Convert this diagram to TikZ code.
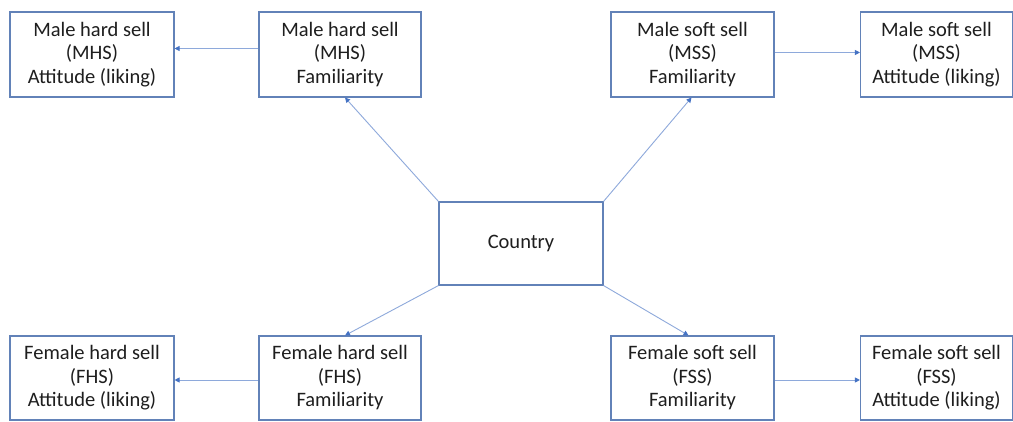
\documentclass[tikz,border=0pt]{standalone}
\usepackage{fontspec}
\setmainfont{Carlito}
\usetikzlibrary{arrows.meta}
\definecolor{boxline}{HTML}{6282B8}
\definecolor{conn}{HTML}{8EA9DB}
\definecolor{tipc}{HTML}{4472C4}
\definecolor{txt}{HTML}{1E1E1E}
\tikzset{
  box/.style={draw=boxline, line width=1.1pt, fill=white, minimum height=85pt, align=center,
    text=txt, font=\fontsize{20.5}{23.5}\selectfont, inner sep=0pt},
  conline/.style={draw=conn, line width=0.9pt, -{Triangle[length=5pt,width=5pt,color=tipc]}},
  plain/.style={draw=conn, line width=0.9pt}
}
\begin{document}
\begin{tikzpicture}[x=1pt,y=-1pt]
\useasboundingbox[fill=white] (0,0) rectangle (1013,422);
\node[box, minimum width=164pt] (mha) at (92,54.5) {Male hard sell\\(MHS)\\Attitude (liking)};
\node[box, minimum width=162pt] (mhf) at (340,54.5) {Male hard sell\\(MHS)\\Familiarity};
\node[box, minimum width=163pt] (msf) at (692.5,54.5) {Male soft sell\\(MSS)\\Familiarity};
\node[box, minimum width=152pt] (msa) at (936.5,54.5) {Male soft sell\\(MSS)\\Attitude (liking)};
\node[box, minimum width=164pt, minimum height=83pt] (country) at (521,243.5) {Country};
\node[box, minimum width=164pt, minimum height=84pt] (fha) at (92,378) {Female hard sell\\(FHS)\\Attitude (liking)};
\node[box, minimum width=162pt, minimum height=84pt] (fhf) at (340,378) {Female hard sell\\(FHS)\\Familiarity};
\node[box, minimum width=163pt, minimum height=84pt] (fsf) at (692.5,378) {Female soft sell\\(FSS)\\Familiarity};
\node[box, minimum width=152pt, minimum height=84pt] (fsa) at (936.5,378) {Female soft sell\\(FSS)\\Attitude (liking)};

\draw[conline] ([yshift=6pt]mhf.west) -- ([yshift=6pt]mha.east);
\draw[conline] ([yshift=2pt]msf.east) -- ([yshift=2pt]msa.west);
\draw[conline] ([yshift=-2pt]fhf.west) -- ([yshift=-2pt]fha.east);
\draw[conline] ([yshift=-2pt]fsf.east) -- ([yshift=-2pt]fsa.west);

\draw[conline] (country.north west) -- ([xshift=5pt]mhf.south);
\draw[conline] (country.north east) -- ([xshift=-1pt]msf.south);
\draw[conline] (country.south west) -- ([xshift=5pt]fhf.north);
\draw[conline] (country.south east) -- ([xshift=-4pt]fsf.north);
\end{tikzpicture}
\end{document}
